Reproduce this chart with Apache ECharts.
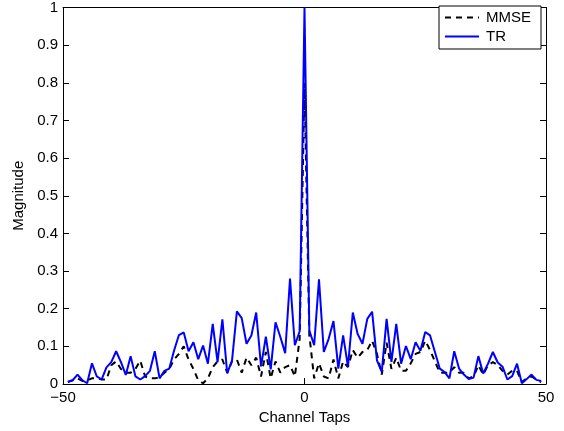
<!DOCTYPE html>
<html>
<head>
<meta charset="utf-8">
<script src="https://cdn.jsdelivr.net/npm/echarts@6/dist/echarts.min.js"></script>
<style>html,body{margin:0;padding:0;background:#fff;}#c{width:564px;height:431px;}</style>
</head>
<body>
<div id="c"></div>
<script>
const taps = [];
for (let t = -49; t <= 49; t++) taps.push(t);

const mmse = [
0.005,0.01,0.015,0.008,0.01,0.015,0.015,0.012,0.012,0.05,
0.06,0.04,0.03,0.03,0.04,0.062,0.02,0.015,0.015,0.018,
0.03,0.04,0.065,0.08,0.1,0.065,0.04,0.01,0.002,0.015,
0.045,0.06,0.065,0.03,0.06,0.065,0.03,0.07,0.05,0.07,
0.02,0.085,0.015,0.06,0.03,0.045,0.05,0.02,0.12,
0.8,
0.13,0.015,0.055,0.02,0.015,0.065,0.015,0.06,0.045,0.09,
0.07,0.085,0.09,0.115,0.08,0.025,0.11,0.04,0.07,0.035,
0.035,0.055,0.08,0.085,0.115,0.09,0.06,0.03,0.03,0.03,
0.045,0.03,0.03,0.015,0.02,0.05,0.025,0.05,0.058,0.05,
0.035,0.025,0.035,0.035,0.005,0.015,0.02,0.012,0.005
];

const tr = [
0.006,0.01,0.025,0.01,0.002,0.055,0.02,0.012,0.044,0.058,
0.087,0.058,0.024,0.074,0.02,0.012,0.021,0.035,0.087,0.015,
0.035,0.041,0.089,0.13,0.137,0.087,0.111,0.066,0.102,0.054,
0.16,0.058,0.172,0.028,0.063,0.193,0.175,0.107,0.129,0.19,
0.047,0.126,0.039,0.164,0.125,0.082,0.28,0.103,0.14,
1.0,
0.142,0.103,0.278,0.085,0.12,0.167,0.041,0.129,0.046,0.19,
0.133,0.107,0.173,0.192,0.063,0.032,0.173,0.059,0.16,0.054,
0.101,0.066,0.111,0.088,0.138,0.129,0.085,0.041,0.032,0.015,
0.087,0.041,0.025,0.013,0.017,0.074,0.028,0.054,0.085,0.057,
0.046,0.012,0.021,0.054,0.002,0.013,0.025,0.011,0.008
];

const xTicks = [-50, 0, 50];
const yTicks = [0,0.1,0.2,0.3,0.4,0.5,0.6,0.7,0.8,0.9,1];

const FONT = '"Liberation Sans", Arial, Helvetica, sans-serif';
const fmtNum = v => String(Math.round(v*10)/10).replace('-', '\u2212');

const chart = echarts.init(document.getElementById('c'), null, {renderer: 'canvas'});
const axisLine = {show: true, onZero: false, lineStyle: {color: '#000', width: 1}};
const tickIn = {show: true, inside: true, length: 6, lineStyle: {color: '#000', width: 1}};

chart.setOption({
  animation: false,
  backgroundColor: '#fff',
  grid: {left: 63, right: 18, top: 4, bottom: 47, containLabel: false},
  legend: {
    orient: 'vertical',
    right: 23, top: 6,
    backgroundColor: '#fff',
    borderColor: '#000', borderWidth: 1,
    padding: [4, 10, 5, 5],
    itemGap: 4,
    itemWidth: 34, itemHeight: 16,
    itemStyle: {opacity: 0},
    textStyle: {fontFamily: FONT, fontSize: 15, color: '#000', padding: [0, 0, 0, 2]},
    data: ['MMSE', 'TR']
  },
  xAxis: [{
    type: 'value', min: xTicks[0], max: xTicks[xTicks.length-1], interval: 50,
    axisLine: axisLine, axisTick: tickIn, splitLine: {show: false},
    axisLabel: {fontFamily: FONT, fontSize: 15, color: '#000', margin: 6, formatter: fmtNum},
    name: 'Channel Taps', nameLocation: 'middle', nameGap: 25,
    nameTextStyle: {fontFamily: FONT, fontSize: 15, color: '#000'}
  }, {
    type: 'value', position: 'top', min: xTicks[0], max: xTicks[xTicks.length-1], interval: 50,
    axisLine: axisLine, axisTick: tickIn, axisLabel: {show: false}, splitLine: {show: false}
  }],
  yAxis: [{
    type: 'value', min: yTicks[0], max: yTicks[yTicks.length-1], interval: 0.1,
    axisLine: axisLine, axisTick: tickIn, splitLine: {show: false},
    axisLabel: {fontFamily: FONT, fontSize: 15, color: '#000', margin: 5, formatter: fmtNum},
    name: 'Magnitude', nameLocation: 'middle', nameGap: 37,
    nameTextStyle: {fontFamily: FONT, fontSize: 15, color: '#000'}
  }, {
    type: 'value', position: 'right', min: yTicks[0], max: yTicks[yTicks.length-1], interval: 0.1,
    axisLine: axisLine, axisTick: tickIn, axisLabel: {show: false}, splitLine: {show: false}
  }],
  series: [{
    name: 'MMSE', type: 'line', symbol: 'none',
    data: taps.map((t, i) => [t, mmse[i]]),
    lineStyle: {color: '#000', width: 2, type: [6, 5]},
    itemStyle: {color: '#000'},
    z: 2
  }, {
    name: 'TR', type: 'line', symbol: 'none',
    data: taps.map((t, i) => [t, tr[i]]),
    lineStyle: {color: '#0000ff', width: 2},
    itemStyle: {color: '#0000ff'},
    z: 3
  }]
});
</script>
</body>
</html>
